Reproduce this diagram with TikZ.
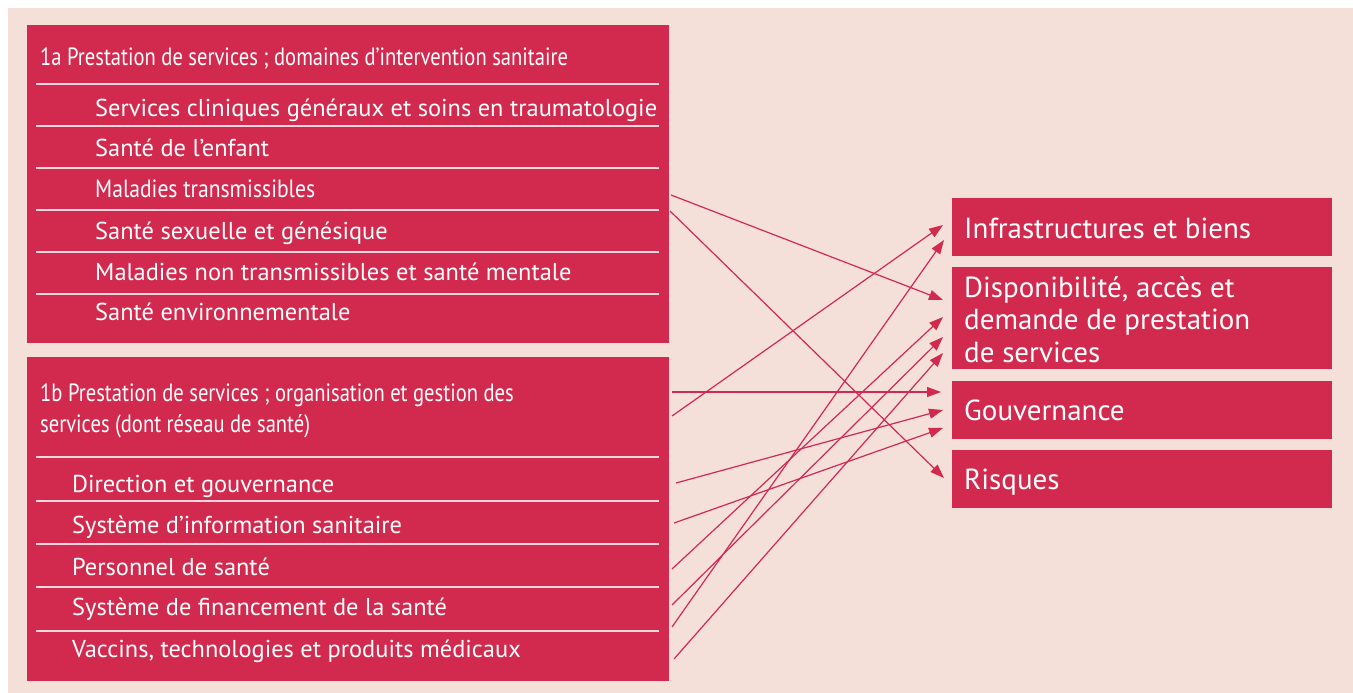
\documentclass[tikz,border=0pt]{standalone}
\usepackage{fontspec}
\setmainfont{PT Sans}
\newfontfamily\condfont[FakeStretch=0.823]{PT Sans}
\newfontfamily\condfontB[FakeStretch=0.865]{PT Sans}
\usetikzlibrary{arrows.meta}
\definecolor{bgpink}{RGB}{245,223,217}
\definecolor{boxred}{RGB}{210,42,78}
\definecolor{sepwhite}{RGB}{246,214,222}
\begin{document}
\begin{tikzpicture}[x=1pt,y=-1pt,
  panel/.style={fill=boxred, draw=none, inner sep=0, anchor=north west},
  sepline/.style={draw=sepwhite, line width=1.1pt},
  rowtxt/.style={anchor=base west, text=white, inner sep=0, font=\fontsize{24.4}{28}\selectfont},
  headtxt/.style={anchor=base west, text=white, inner sep=0, font=\condfont\fontsize{25}{31}\selectfont},
  righttxt/.style={anchor=base west, text=white, inner sep=0, font=\fontsize{29}{32}\selectfont},
  link/.style={draw=boxred, line width=1.2pt, -{Triangle[length=14pt,width=10pt]}}
]
\useasboundingbox (0,0) rectangle (1353,693);
\fill[bgpink] (8,8) rectangle (1353,693);

% left panels
\node[panel, minimum width=642pt, minimum height=318pt] (boxA) at (27,25) {};
\node[panel, minimum width=642pt, minimum height=324pt] (boxB) at (27,357) {};

% right panels
\node[panel, minimum width=380pt, minimum height=58pt] (infra) at (952,198) {};
\node[panel, minimum width=380pt, minimum height=102pt] (dispo) at (952,267) {};
\node[panel, minimum width=380pt, minimum height=58pt] (gouv) at (952,381) {};
\node[panel, minimum width=380pt, minimum height=58pt] (risk) at (952,450) {};

% separators 1a
\foreach \yy in {84,126,168,210,252,294}
  \draw[sepline] (36,\yy) -- (659,\yy);
% separators 1b
\foreach \yy in {457,501,544,587,631}
  \draw[sepline] (36,\yy) -- (659,\yy);

% 1a texts
\node[headtxt] (hA) at (40,66) {1a Prestation de services ; domaines d’intervention sanitaire};
\node[rowtxt] (a1) at (95,116.5) {Services cliniques généraux et soins en traumatologie};
\node[rowtxt] (a2) at (95,157) {Santé de l’enfant};
\node[rowtxt, font=\condfontB\fontsize{25}{28}\selectfont] (a3) at (95,197.5) {Maladies transmissibles};
\node[rowtxt] (a4) at (95,239) {Santé sexuelle et génésique};
\node[rowtxt] (a5) at (95,280) {Maladies non transmissibles et santé mentale};
\node[rowtxt] (a6) at (95,320) {Santé environnementale};

% 1b texts
\node[headtxt] (hB1) at (40,401) {1b Prestation de services ; organisation et gestion des};
\node[headtxt] (hB2) at (40,432) {services (dont réseau de santé)};
\node[rowtxt] (b1) at (72,492) {Direction et gouvernance};
\node[rowtxt] (b2) at (72,533) {Système d’information sanitaire};
\node[rowtxt] (b3) at (72,575) {Personnel de santé};
\node[rowtxt] (b4) at (72,615) {Système de financement de la santé};
\node[rowtxt] (b5) at (72,657) {Vaccins, technologies et produits médicaux};

% right texts
\node[righttxt] (tInfra) at (964,238) {Infrastructures et biens};
\node[righttxt] (tD1) at (964,297) {Disponibilité, accès et};
\node[righttxt] (tD2) at (964,329) {demande de prestation};
\node[righttxt] (tD3) at (964,362) {de services};
\node[righttxt] (tGouv) at (964,420) {Gouvernance};
\node[righttxt] (tRisk) at (964,489) {Risques};

% arrow endpoints
\coordinate (s1) at (671,195);  \coordinate (e1) at (943,300);
\coordinate (s2) at (670,211);  \coordinate (e2) at (944,478);
\coordinate (s3) at (672,416);  \coordinate (e3) at (943,225);
\coordinate (s4) at (672,392);  \coordinate (e4) at (941,392);
\coordinate (s5) at (676,483);  \coordinate (e5) at (943,410);
\coordinate (s6) at (674,523);  \coordinate (e6) at (943,428);
\coordinate (s7) at (672,569);  \coordinate (e7) at (943,317);
\coordinate (s8) at (672,605);  \coordinate (e8) at (943,337);
\coordinate (s9) at (672,627);  \coordinate (e9) at (944,240);
\coordinate (s10) at (674,659); \coordinate (e10) at (943,353);

\foreach \i in {1,...,10}
  \draw[link] (s\i) -- (e\i);
\end{tikzpicture}
\end{document}
